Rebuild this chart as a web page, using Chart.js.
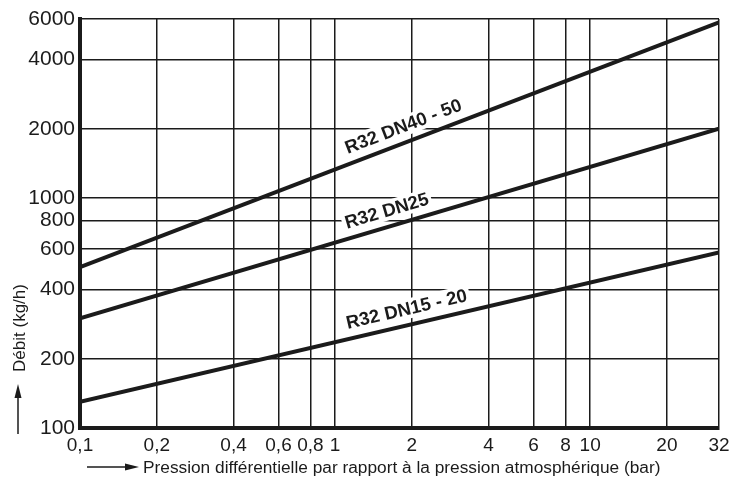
<!DOCTYPE html>
<html>
<head>
<meta charset="utf-8">
<script src="https://cdn.jsdelivr.net/npm/chart.js@4"></script>
<style>
  html, body { margin: 0; padding: 0; background: #fff; }
  #wrap { width: 731px; height: 486px; }
</style>
</head>
<body>
<div id="wrap"><canvas id="chart"></canvas></div>
<script>
// ===== data =====
const pressure = [0.1, 32];
const dn4050 = [500, 5800];
const dn25 = [300, 2000];
const dn1520 = [130, 580];

const xTicks = [0.1, 0.2, 0.4, 0.6, 0.8, 1, 2, 4, 6, 8, 10, 20, 32];
const yTicks = [100, 200, 400, 600, 800, 1000, 2000, 4000, 6000];

const seriesNames = ["R32 DN40 - 50", "R32 DN25", "R32 DN15 - 20"];
const labelAt = [1.95, 1.66, 1.97]; // x value where each name sits

const ink = "#1b1b1b";
const fontFam = "'Liberation Sans', Arial, sans-serif";

function pts(ys) {
  return pressure.map((p, i) => ({ x: p, y: ys[i] }));
}

// ===== extras: line names, arrows, axis titles =====
const extras = {
  id: "extras",
  afterDatasetsDraw(chart) {
    const ctx = chart.ctx;
    const xs = chart.scales.x, ys = chart.scales.y;
    ctx.save();

    chart.data.datasets.forEach((ds, i) => {
      const a = ds.data[0], b = ds.data[1];
      const x1 = xs.getPixelForValue(a.x), y1 = ys.getPixelForValue(a.y);
      const x2 = xs.getPixelForValue(b.x), y2 = ys.getPixelForValue(b.y);
      const ang = Math.atan2(y2 - y1, x2 - x1);
      const cx = xs.getPixelForValue(labelAt[i]);
      const cy = y1 + (y2 - y1) * (cx - x1) / (x2 - x1);
      ctx.save();
      ctx.translate(cx, cy);
      ctx.rotate(ang);
      ctx.font = "bold 18.5px " + fontFam;
      const w = ctx.measureText(seriesNames[i]).width;
      ctx.fillStyle = "#fff";
      ctx.fillRect(-w / 2 - 3, -26, w + 6, 20);
      ctx.fillStyle = ink;
      ctx.textAlign = "center";
      ctx.textBaseline = "alphabetic";
      ctx.fillText(seriesNames[i], 0, -10);
      ctx.restore();
    });

    ctx.fillStyle = ink;
    ctx.strokeStyle = ink;
    ctx.lineWidth = 1.5;

    // y arrow
    ctx.beginPath();
    ctx.moveTo(18, 434); ctx.lineTo(18, 395); ctx.stroke();
    ctx.beginPath();
    ctx.moveTo(18, 384); ctx.lineTo(14.5, 398); ctx.lineTo(21.5, 398); ctx.closePath(); ctx.fill();

    // y title
    ctx.save();
    ctx.translate(20, 328);
    ctx.rotate(-Math.PI / 2);
    ctx.font = "17px " + fontFam;
    ctx.textAlign = "center";
    ctx.textBaseline = "middle";
    ctx.fillText("Débit (kg/h)", 0, 0);
    ctx.restore();

    // x arrow
    ctx.beginPath();
    ctx.moveTo(87, 467); ctx.lineTo(128, 467); ctx.stroke();
    ctx.beginPath();
    ctx.moveTo(139, 467); ctx.lineTo(125, 463.5); ctx.lineTo(125, 470.5); ctx.closePath(); ctx.fill();

    // x title
    ctx.font = "17.3px " + fontFam;
    ctx.textAlign = "left";
    ctx.textBaseline = "middle";
    ctx.fillText("Pression différentielle par rapport à la pression atmosphérique (bar)", 143, 468);

    ctx.restore();
  }
};

const lineStyle = { borderColor: ink, borderWidth: 4, pointRadius: 0, fill: false, tension: 0 };

new Chart(document.getElementById("chart"), {
  type: "line",
  data: {
    datasets: [
      Object.assign({ label: seriesNames[0], data: pts(dn4050) }, lineStyle),
      Object.assign({ label: seriesNames[1], data: pts(dn25) }, lineStyle),
      Object.assign({ label: seriesNames[2], data: pts(dn1520) }, lineStyle)
    ]
  },
  options: {
    responsive: true,
    maintainAspectRatio: false,
    animation: false,
    layout: { padding: { left: 0, right: 12, top: 19, bottom: 0 } },
    plugins: { legend: { display: false }, tooltip: { enabled: false } },
    scales: {
      x: {
        type: "logarithmic",
        min: 0.1,
        max: 32,
        afterBuildTicks: s => { s.ticks = xTicks.map(v => ({ value: v, major: false })); },
        afterFit: s => { s.height = 58; s.paddingLeft = 0; s.paddingRight = 0; },
        grid: { color: ink, lineWidth: 1.5, drawTicks: false },
        border: { color: ink, width: 4 },
        ticks: {
          color: ink,
          padding: 6,
          maxRotation: 0,
          autoSkip: false,
          font: { family: fontFam, size: 19 },
          callback: v => String(v).replace(".", ",")
        }
      },
      y: {
        type: "logarithmic",
        min: 100,
        max: 6000,
        afterBuildTicks: s => { s.ticks = yTicks.map(v => ({ value: v, major: false })); },
        afterFit: s => { s.width = 80; s.paddingTop = 0; s.paddingBottom = 0; },
        grid: { color: ink, lineWidth: 1.5, drawTicks: false },
        border: { color: ink, width: 4 },
        ticks: {
          color: ink,
          padding: 5,
          autoSkip: false,
          font: { family: fontFam, size: 21 },
          callback: v => String(v)
        }
      }
    }
  },
  plugins: [extras]
});
</script>
</body>
</html>
